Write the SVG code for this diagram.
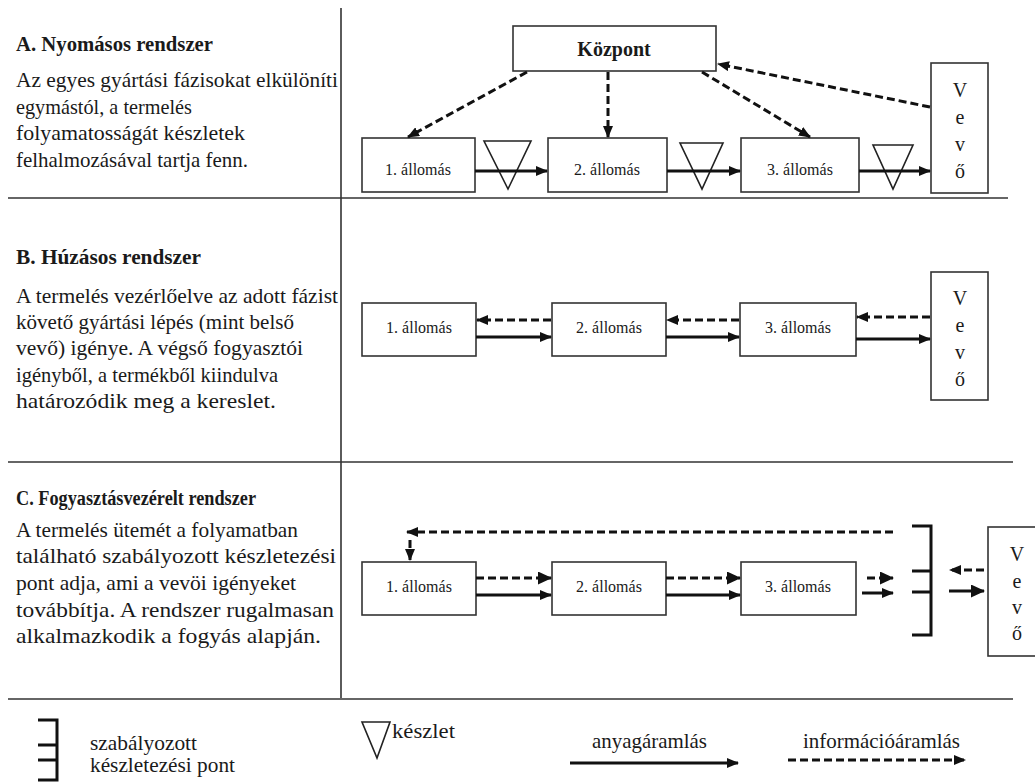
<svg xmlns="http://www.w3.org/2000/svg" width="1035" height="783" viewBox="0 0 1035 783">
  <defs>
    <style>
      .bg { fill: #ffffff; }
      .rule { stroke: #333; stroke-width: 1.6; fill: none; }
      .box { fill: #ffffff; stroke: #333; stroke-width: 1.6; }
      .tri { fill: #ffffff; stroke: #222; stroke-width: 1.6; }
      .mat { stroke: #111; stroke-width: 3; fill: none; }
      .info { stroke: #111; stroke-width: 3; fill: none; stroke-dasharray: 8 4; }
      .brk { stroke: #111; stroke-width: 3; fill: none; }
      text { font-family: "Liberation Serif", Tinos, "Times New Roman", Times, serif; fill: #1a1a1a; }
      .h { font-weight: bold; font-size: 20px; }
      .t { font-size: 21px; }
      .st { font-size: 16px; text-anchor: middle; }
      .v { font-size: 20px; text-anchor: middle; }
      .kp { font-weight: bold; font-size: 20px; text-anchor: middle; }
    </style>
    <marker id="arr" viewBox="0 0 12 10" refX="11" refY="5" markerWidth="12" markerHeight="10" markerUnits="userSpaceOnUse" orient="auto">
      <path d="M0,0 L12,5 L0,10 z" fill="#111"/>
    </marker>
    <marker id="arrL" viewBox="0 0 14 13" refX="13" refY="6.5" markerWidth="14" markerHeight="13" markerUnits="userSpaceOnUse" orient="auto">
      <path d="M0,0 L14,6.5 L0,13 z" fill="#111"/>
    </marker>
  </defs>

  <rect class="bg" x="0" y="0" width="1035" height="783"/>

  <!-- table rules -->
  <g id="rules">
    <line class="rule" x1="341" y1="8" x2="341" y2="698"/>
    <line class="rule" x1="8" y1="198" x2="1008" y2="198"/>
    <line class="rule" x1="8" y1="462" x2="1013" y2="462"/>
    <line class="rule" x1="8" y1="699" x2="1013" y2="699"/>
  </g>

  <!-- descriptions -->
  <g id="text-a">
    <text class="h" x="16" y="51" textLength="197" lengthAdjust="spacingAndGlyphs">A. Nyomásos rendszer</text>
    <text class="t" x="16" y="87" textLength="322" lengthAdjust="spacingAndGlyphs">Az egyes gyártási fázisokat elkülöníti</text>
    <text class="t" x="16" y="114" textLength="176" lengthAdjust="spacingAndGlyphs">egymástól, a termelés</text>
    <text class="t" x="16" y="140" textLength="229" lengthAdjust="spacingAndGlyphs">folyamatosságát készletek</text>
    <text class="t" x="16" y="167" textLength="232" lengthAdjust="spacingAndGlyphs">felhalmozásával tartja fenn.</text>
  </g>
  <g id="text-b">
    <text class="h" x="16" y="264" textLength="185" lengthAdjust="spacingAndGlyphs">B. Húzásos rendszer</text>
    <text class="t" x="16" y="303" textLength="322" lengthAdjust="spacingAndGlyphs">A termelés vezérlőelve az adott fázist</text>
    <text class="t" x="16" y="329" textLength="278" lengthAdjust="spacingAndGlyphs">követő gyártási lépés (mint belső</text>
    <text class="t" x="16" y="355" textLength="287" lengthAdjust="spacingAndGlyphs">vevő) igénye. A végső fogyasztói</text>
    <text class="t" x="16" y="382" textLength="262" lengthAdjust="spacingAndGlyphs">igényből, a termékből kiindulva</text>
    <text class="t" x="16" y="408" textLength="260" lengthAdjust="spacingAndGlyphs">határozódik meg a kereslet.</text>
  </g>
  <g id="text-c">
    <text class="h" x="16" y="505" textLength="240" lengthAdjust="spacingAndGlyphs">C. Fogyasztásvezérelt rendszer</text>
    <text class="t" x="16" y="537" textLength="282" lengthAdjust="spacingAndGlyphs">A termelés ütemét a folyamatban</text>
    <text class="t" x="16" y="563" textLength="320" lengthAdjust="spacingAndGlyphs">található szabályozott készletezési</text>
    <text class="t" x="16" y="590" textLength="280" lengthAdjust="spacingAndGlyphs">pont adja, ami a vevöi igényeket</text>
    <text class="t" x="16" y="617" textLength="318" lengthAdjust="spacingAndGlyphs">továbbítja. A rendszer rugalmasan</text>
    <text class="t" x="16" y="643" textLength="305" lengthAdjust="spacingAndGlyphs">alkalmazkodik a fogyás alapján.</text>
  </g>

  <!-- A: push system nodes -->
  <g id="a-kozpont">
    <rect class="box" x="513" y="26" width="203" height="45"/>
    <text class="kp" x="614" y="56">Központ</text>
  </g>
  <g id="a-st1">
    <rect class="box" x="362" y="138" width="113" height="54"/>
    <text class="st" x="418" y="175">1. állomás</text>
  </g>
  <g id="a-st2">
    <rect class="box" x="548" y="138" width="119" height="54"/>
    <text class="st" x="607" y="175">2. állomás</text>
  </g>
  <g id="a-st3">
    <rect class="box" x="741" y="138" width="118" height="54"/>
    <text class="st" x="800" y="175">3. állomás</text>
  </g>
  <g id="a-vevo">
    <rect class="box" x="931" y="63" width="57" height="130"/>
    <text class="v" x="960" y="97">V</text>
    <text class="v" x="960" y="124">e</text>
    <text class="v" x="960" y="151">v</text>
    <text class="v" x="960" y="178">ő</text>
  </g>

  <!-- B: pull system nodes -->
  <g id="b-st1">
    <rect class="box" x="362" y="303" width="114" height="53"/>
    <text class="st" x="419" y="333">1. állomás</text>
  </g>
  <g id="b-st2">
    <rect class="box" x="552" y="303" width="114" height="53"/>
    <text class="st" x="609" y="333">2. állomás</text>
  </g>
  <g id="b-st3">
    <rect class="box" x="740" y="303" width="116" height="53"/>
    <text class="st" x="798" y="333">3. állomás</text>
  </g>
  <g id="b-vevo">
    <rect class="box" x="931" y="272" width="57" height="128"/>
    <text class="v" x="960" y="305">V</text>
    <text class="v" x="960" y="332">e</text>
    <text class="v" x="960" y="359">v</text>
    <text class="v" x="960" y="386">ő</text>
  </g>

  <!-- C: consumption-driven nodes -->
  <g id="c-st1">
    <rect class="box" x="362" y="562" width="114" height="53"/>
    <text class="st" x="419" y="592">1. állomás</text>
  </g>
  <g id="c-st2">
    <rect class="box" x="552" y="562" width="114" height="53"/>
    <text class="st" x="609" y="592">2. állomás</text>
  </g>
  <g id="c-st3">
    <rect class="box" x="741" y="562" width="115" height="53"/>
    <text class="st" x="798" y="592">3. állomás</text>
  </g>
  <g id="c-pont">
    <path class="brk" d="M912,526 H931 V635 H912 M912,571 H931 M912,592 H931"/>
  </g>
  <g id="c-vevo">
    <rect class="box" x="988" y="527" width="57" height="129"/>
    <text class="v" x="1017" y="561">V</text>
    <text class="v" x="1017" y="588">e</text>
    <text class="v" x="1017" y="614">v</text>
    <text class="v" x="1017" y="640">ő</text>
  </g>

  <!-- stock triangles -->
  <g id="a-keszlet">
    <polygon class="tri" points="484,141 531,141 508,189"/>
    <polygon class="tri" points="680,143 723,143 702,189"/>
    <polygon class="tri" points="873,145 913,145 893,189"/>
  </g>

  <!-- connectors -->
  <g id="connectors">
    <!-- A: information from centre, demand from customer -->
    <line class="info" x1="527" y1="72" x2="408" y2="137" marker-end="url(#arr)"/>
    <line class="info" x1="608" y1="72" x2="608" y2="137" marker-end="url(#arr)"/>
    <line class="info" x1="702" y1="72" x2="810" y2="137" marker-end="url(#arr)"/>
    <line class="info" x1="930" y1="107" x2="718" y2="64" marker-end="url(#arr)"/>
    <!-- A: material flow -->
    <line class="mat" x1="475" y1="171" x2="547" y2="171" marker-end="url(#arr)"/>
    <line class="mat" x1="667" y1="171" x2="740" y2="171" marker-end="url(#arr)"/>
    <line class="mat" x1="859" y1="171" x2="930" y2="171" marker-end="url(#arr)"/>

    <!-- B: pull signals and material -->
    <line class="info" x1="551" y1="320" x2="477" y2="320" marker-end="url(#arr)"/>
    <line class="info" x1="739" y1="320" x2="667" y2="320" marker-end="url(#arr)"/>
    <line class="info" x1="930" y1="317" x2="857" y2="317" marker-end="url(#arr)"/>
    <line class="mat" x1="476" y1="337" x2="551" y2="337" marker-end="url(#arr)"/>
    <line class="mat" x1="666" y1="337" x2="739" y2="337" marker-end="url(#arr)"/>
    <line class="mat" x1="856" y1="339" x2="930" y2="339" marker-end="url(#arr)"/>

    <!-- C: feedback from stocking point -->
    <line class="info" x1="893" y1="532" x2="407" y2="532" marker-end="url(#arr)"/>
    <line class="info" x1="410" y1="540" x2="410" y2="560" marker-end="url(#arr)"/>
    <line class="info" x1="476" y1="578" x2="551" y2="578" marker-end="url(#arrL)"/>
    <line class="info" x1="666" y1="578" x2="740" y2="578" marker-end="url(#arrL)"/>
    <line class="info" x1="867" y1="578" x2="893" y2="578" marker-end="url(#arrL)"/>
    <line class="info" x1="984" y1="570" x2="950" y2="570" marker-end="url(#arr)"/>
    <line class="mat" x1="476" y1="595" x2="551" y2="595" marker-end="url(#arr)"/>
    <line class="mat" x1="666" y1="595" x2="740" y2="595" marker-end="url(#arr)"/>
    <line class="mat" x1="862" y1="593" x2="893" y2="593" marker-end="url(#arr)"/>
    <line class="mat" x1="949" y1="591" x2="984" y2="591" marker-end="url(#arrL)"/>
  </g>

  <!-- legend -->
  <g id="legend-pont">
    <path class="brk" d="M38,720 H57 V780 H38 M38,745 H57 M38,760 H57"/>
    <text class="t" x="90" y="750" textLength="107" lengthAdjust="spacingAndGlyphs">szabályozott</text>
    <text class="t" x="90" y="772" textLength="145" lengthAdjust="spacingAndGlyphs">készletezési pont</text>
  </g>
  <g id="legend-keszlet">
    <polygon class="tri" points="362,722 390,722 377,758"/>
    <text class="t" x="392" y="738" textLength="63" lengthAdjust="spacingAndGlyphs">készlet</text>
  </g>
  <g id="legend-anyag">
    <text class="t" x="592" y="748" textLength="115" lengthAdjust="spacingAndGlyphs">anyagáramlás</text>
    <line class="mat" x1="570" y1="763" x2="738" y2="763" marker-end="url(#arr)"/>
  </g>
  <g id="legend-info">
    <text class="t" x="803" y="748" textLength="157" lengthAdjust="spacingAndGlyphs">információáramlás</text>
    <line class="info" x1="788" y1="760" x2="965" y2="760" marker-end="url(#arr)"/>
  </g>
</svg>
